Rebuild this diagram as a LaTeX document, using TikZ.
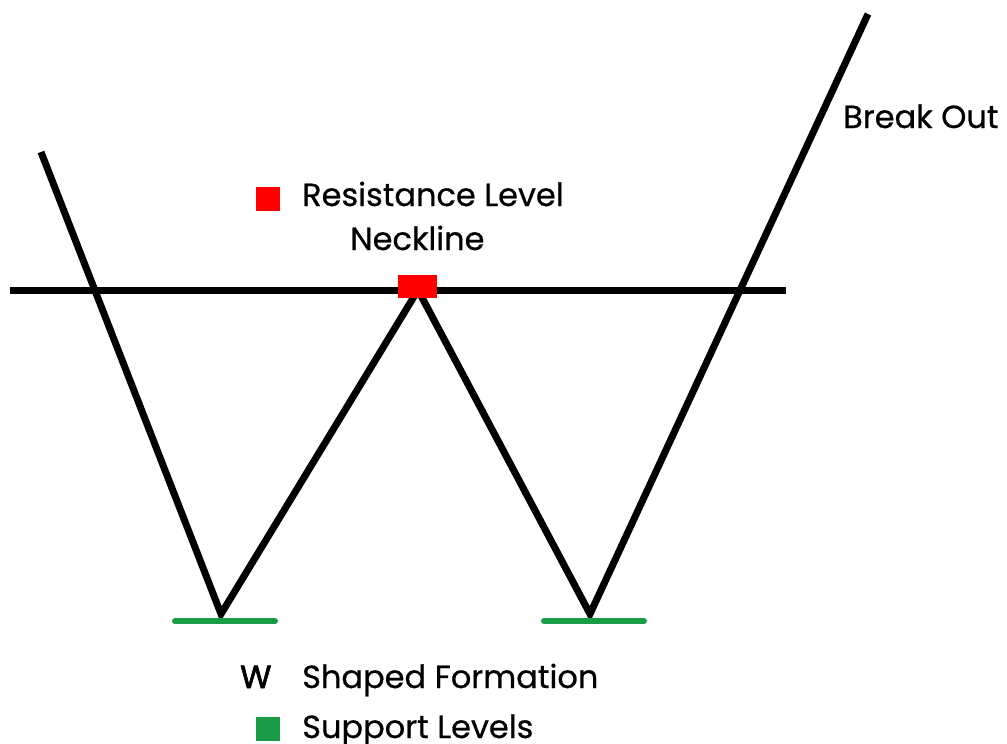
\documentclass[tikz,border=0pt]{standalone}
\usepackage{fontspec}
\setmainfont{Poppins}[FakeBold=0.5]
\definecolor{supgreen}{RGB}{26,155,71}
\definecolor{resred}{RGB}{255,0,0}
\begin{document}
\begin{tikzpicture}[x=1pt,y=-1pt,
  price/.style={line width=7pt,black,line join=miter},
  neck/.style={line width=7pt,black},
  support/.style={line width=6pt,supgreen,line cap=round},
  lbl/.style={font=\fontsize{32}{36}\selectfont\addfontfeature{FakeBold=0.6},anchor=base west,inner sep=0pt},
]
\useasboundingbox (0,0) rectangle (1007,744);
\coordinate (s) at (41,152);
\coordinate (b1) at (221,614);
\coordinate (p) at (418,290);
\coordinate (b2) at (590,614);
\coordinate (e) at (868,14);
\coordinate (nl) at (10,290);
\coordinate (nr) at (786,290);
\draw[neck] (nl) -- (nr);
\draw[price] (s) -- (b1) -- (p) -- (b2) -- (e);
\node[fill=resred,minimum width=39pt,minimum height=23pt,inner sep=0pt] (peak) at (417.5,286.5) {};
\coordinate (g1a) at (175,621); \coordinate (g1b) at (275,621);
\coordinate (g2a) at (544,621); \coordinate (g2b) at (644,621);
\draw[support] (g1a) -- (g1b);
\draw[support] (g2a) -- (g2b);
\node[fill=resred,minimum size=24pt,inner sep=0pt] (rkey) at (268,199) {};
\node[lbl] (rtext) at (302,206) {Resistance Level};
\node[lbl] (ntext) at (350,250) {Neckline};
\node[lbl] (bo) at (843,128) {Break Out};
\node[lbl,font=\fontsize{32}{36}\selectfont\addfontfeature{FakeBold=2.2}] (w) at (240,688) {W};
\node[lbl] (sf) at (302,688) {Shaped Formation};
\node[fill=supgreen,minimum size=24pt,inner sep=0pt] (gkey) at (268,729) {};
\node[lbl] (sl) at (302,738) {Support Levels};
\end{tikzpicture}
\end{document}
